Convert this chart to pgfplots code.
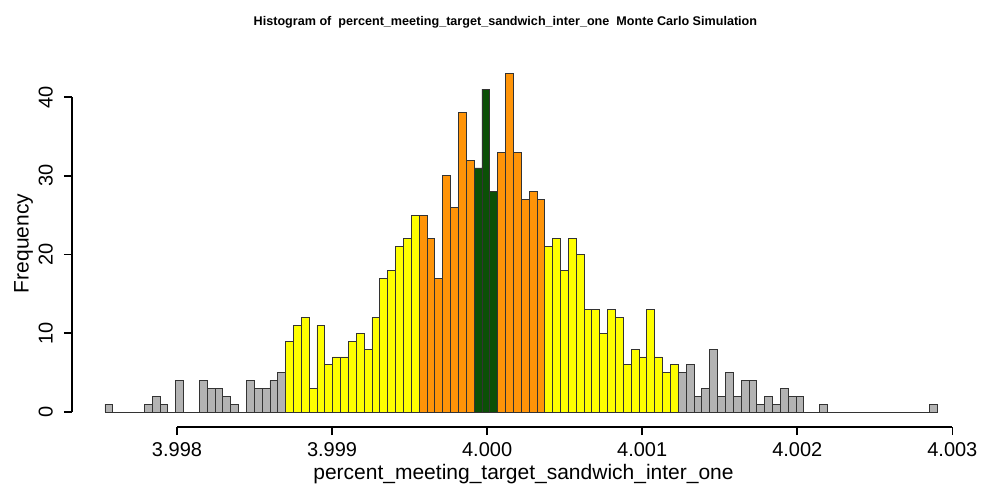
\documentclass[border=0pt]{standalone}
\usepackage{pgfplots}
\pgfplotsset{compat=1.18}
\usepackage{fontspec}
\setmainfont{Liberation Sans}
\definecolor{rgray}{HTML}{B3B3B3}
\definecolor{ryel}{HTML}{FFFF00}
\definecolor{rora}{HTML}{FF9408}
\definecolor{rgrn}{HTML}{0B5006}
\begin{document}
\begin{tikzpicture}
\useasboundingbox (0,0) rectangle (500pt,250pt);
\begin{axis}[at={(36pt,36.5pt)}, anchor=south west, scale only axis,
  width=451.5pt, height=183.5pt,
  xmin=-4.70, xmax=110.3, ymin=-1.9, ymax=44.7,
  axis x line=bottom, axis y line=left,
  x axis line style={draw=none}, y axis line style={draw=none},
  xtick={8.673,28.421,48.169,67.917,87.665,107.413},
  xticklabels={3.998,3.999,4.000,4.001,4.002,4.003},
  ytick={0,10,20,30,40},
  yticklabel style={rotate=90, anchor=south, yshift=2pt},
  tick align=outside, tick style={black, thick}, major tick length=4pt,
  ticklabel style={font=\fontsize{10}{12}\selectfont},
  /pgf/number format/assume math mode=true,
  xlabel={percent\_meeting\_target\_sandwich\_inter\_one},
  ylabel={Frequency},
  xlabel style={font=\fontsize{10.5}{12}\selectfont, yshift=3pt},
  ylabel style={font=\fontsize{10.5}{12}\selectfont, yshift=-4pt},
  ybar, bar width=1, bar shift=0pt,
  every axis plot/.append style={draw=black!80, line width=0.35pt},
  clip=false]
\addplot[fill=rgray] coordinates {(0,1)(1,0)(2,0)(3,0)(4,0)(5,1)(6,2)(7,1)(8,0)(9,4)(10,0)(11,0)(12,4)(13,3)(14,3)(15,2)(16,1)(17,0)(18,4)(19,3)(20,3)(21,4)(22,5)};
\addplot[fill=ryel] coordinates {(23,9)(24,11)(25,12)(26,3)(27,11)(28,6)(29,7)(30,7)(31,9)(32,10)(33,8)(34,12)(35,17)(36,18)(37,21)(38,22)(39,25)};
\addplot[fill=rora] coordinates {(40,25)(41,22)(42,17)(43,30)(44,26)(45,38)(46,32)};
\addplot[fill=rgrn] coordinates {(47,31)(48,41)(49,28)};
\addplot[fill=rora] coordinates {(50,33)(51,43)(52,33)(53,27)(54,28)(55,27)};
\addplot[fill=ryel] coordinates {(56,21)(57,22)(58,18)(59,22)(60,20)(61,13)(62,13)(63,10)(64,13)(65,12)(66,6)(67,8)(68,7)(69,13)(70,7)(71,5)(72,6)};
\addplot[fill=rgray] coordinates {(73,5)(74,6)(75,2)(76,3)(77,8)(78,2)(79,5)(80,2)(81,4)(82,4)(83,1)(84,2)(85,1)(86,3)(87,2)(88,2)(89,0)(90,0)(91,1)(92,0)(93,0)(94,0)(95,0)(96,0)(97,0)(98,0)(99,0)(100,0)(101,0)(102,0)(103,0)(104,0)(105,1)};
\draw[thick] (axis cs:8.673,-1.9) -- (axis cs:107.413,-1.9);
\draw[thick] (axis cs:-4.70,0) -- (axis cs:-4.70,40);
\node[font=\bfseries\fontsize{6.3}{7}\selectfont] at (axis cs:50.5,49.5) {Histogram of\ \ percent\_meeting\_target\_sandwich\_inter\_one\ \ Monte Carlo Simulation};
\end{axis}
\end{tikzpicture}
\end{document}
